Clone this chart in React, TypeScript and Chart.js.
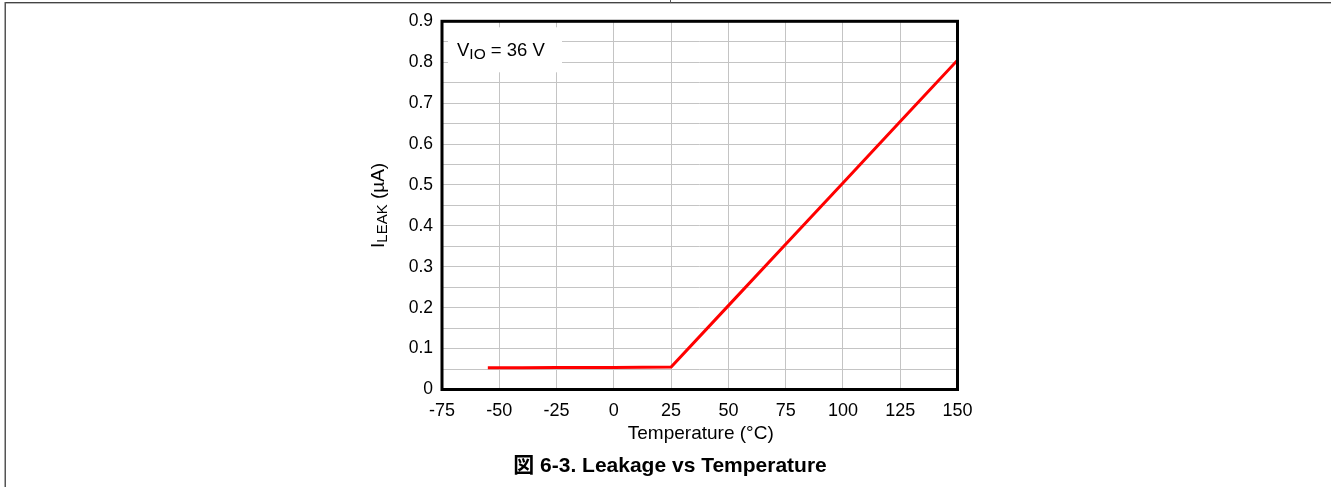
import React, { useEffect, useRef } from "react";
import { Chart, registerables } from "chart.js";

Chart.register(...registerables);

// ---- data ----
const temperatureC = [-55, -40, -25, 0, 25, 50, 75, 100, 125, 150];
const leakageUA = [0.053, 0.053, 0.054, 0.054, 0.055, 0.205, 0.355, 0.505, 0.655, 0.805];
const xMin = -75;
const xMax = 150;
const xStep = 25;
const yMin = 0;
const yMax = 0.9;
const yGridStep = 0.05;
const yTitleMain = "I";
const yTitleSub = "LEAK";
const yTitleRest = " (µA)";
const xTitle = "Temperature (°C)";
const captionText = "図 6-3. Leakage vs Temperature";
const noteMain = "V";
const noteSub = "IO";
const noteRest = " = 36 V";

const FONT = '"Liberation Sans", Arial, "Noto Sans CJK JP", sans-serif';

const decorPlugin = {
  id: "decor",
  beforeDatasetsDraw(chart: any) {
    const { ctx, chartArea } = chart;
    ctx.save();
    // white annotation box
    const bx = chartArea.left + 6;
    const by = chartArea.top + 6;
    ctx.fillStyle = "#ffffff";
    ctx.fillRect(bx, by, 114, 45);
    ctx.fillStyle = "#000000";
    ctx.textBaseline = "alphabetic";
    ctx.textAlign = "left";
    let x = chartArea.left + 15;
    const base = chartArea.top + 35;
    ctx.font = `18.5px ${FONT}`;
    ctx.fillText(noteMain, x, base);
    x += ctx.measureText(noteMain).width;
    ctx.font = `15.5px ${FONT}`;
    ctx.fillText(noteSub, x, base + 2.5);
    x += ctx.measureText(noteSub).width;
    ctx.font = `18.5px ${FONT}`;
    ctx.fillText(noteRest, x, base);
    ctx.restore();
  },
  afterDatasetsDraw(chart: any) {
    const { ctx, chartArea } = chart;
    ctx.save();
    ctx.strokeStyle = "#000000";
    ctx.lineWidth = 3;
    ctx.strokeRect(
      chartArea.left,
      chartArea.top,
      chartArea.right - chartArea.left,
      chartArea.bottom - chartArea.top
    );
    ctx.restore();
  },
  afterDraw(chart: any) {
    const { ctx, chartArea } = chart;
    ctx.save();
    ctx.fillStyle = "#000000";
    // y title (rotated with subscript)
    ctx.font = `19px ${FONT}`;
    const wMain = ctx.measureText(yTitleMain).width;
    const wRest = ctx.measureText(yTitleRest).width;
    ctx.font = `15px ${FONT}`;
    const wSub = ctx.measureText(yTitleSub).width;
    const total = wMain + wSub + wRest;
    const cy = (chartArea.top + chartArea.bottom) / 2;
    ctx.translate(384, cy);
    ctx.rotate(-Math.PI / 2);
    ctx.textAlign = "left";
    ctx.textBaseline = "alphabetic";
    let x = -total / 2;
    ctx.font = `19px ${FONT}`;
    ctx.fillText(yTitleMain, x, 0);
    x += wMain;
    ctx.font = `15px ${FONT}`;
    ctx.fillText(yTitleSub, x, 3);
    x += wSub;
    ctx.font = `19px ${FONT}`;
    ctx.fillText(yTitleRest, x, 0);
    ctx.setTransform(1, 0, 0, 1, 0, 0);
    // x title
    ctx.textAlign = "center";
    ctx.font = `19px ${FONT}`;
    ctx.fillText(xTitle, (chartArea.left + chartArea.right) / 2 + 1, 439);
    // caption
    ctx.font = `bold 21px ${FONT}`;
    ctx.fillText(captionText, 670, 472);
    ctx.restore();
  },
};

export default function App() {
  const canvasRef = useRef<HTMLCanvasElement | null>(null);

  useEffect(() => {
    if (!canvasRef.current) return;
    const chart = new Chart(canvasRef.current, {
      type: "line",
      data: {
        datasets: [
          {
            data: temperatureC.map((t, i) => ({ x: t, y: leakageUA[i] })),
            borderColor: "#ff0000",
            borderWidth: 3,
            pointRadius: 0,
            tension: 0,
            fill: false,
          },
        ],
      },
      options: {
        animation: false,
        responsive: false,
        devicePixelRatio: 1,
        layout: { padding: { left: 362, top: 21.3, right: 373.5, bottom: 67.5 } },
        plugins: { legend: { display: false }, tooltip: { enabled: false } },
        scales: {
          x: {
            type: "linear",
            min: xMin,
            max: xMax,
            border: { display: false },
            grid: { color: "#c4c4c4", lineWidth: 1, drawTicks: false },
            ticks: {
              stepSize: xStep,
              padding: 11,
              color: "#000000",
              font: { family: FONT, size: 18 },
              maxRotation: 0,
              autoSkip: false,
              callback: (v: any) => String(v),
            },
            afterFit: (scale: any) => {
              scale.height = 30;
              scale.paddingLeft = 0;
              scale.paddingRight = 0;
            },
          },
          y: {
            type: "linear",
            min: yMin,
            max: yMax,
            border: { display: false },
            grid: { color: "#c4c4c4", lineWidth: 1, drawTicks: false },
            ticks: {
              stepSize: yGridStep,
              padding: 9,
              color: "#000000",
              font: { family: FONT, size: 17.5 },
              autoSkip: false,
              callback: (v: any) => {
                const n = Math.round(Number(v) * 20);
                return n % 2 === 0 ? String(Math.round(Number(v) * 10) / 10) : "";
              },
            },
            afterFit: (scale: any) => {
              scale.width = 80;
              scale.paddingTop = 0;
              scale.paddingBottom = 0;
            },
          },
        },
      },
      plugins: [decorPlugin],
    } as any);
    return () => chart.destroy();
  }, []);

  return (
    <div style={{ position: "absolute", left: 0, top: 0, width: 1331, height: 487, overflow: "hidden", background: "#ffffff" }}>
      <div style={{ position: "absolute", left: 5, top: 2, width: 1326, height: 1, background: "#444444" }} />
      <div style={{ position: "absolute", left: 5, top: 3, width: 1326, height: 1, background: "#b8b8b8" }} />
      <div style={{ position: "absolute", left: 4, top: 2, width: 1, height: 485, background: "#a8a8a8" }} />
      <div style={{ position: "absolute", left: 5, top: 2, width: 1, height: 485, background: "#555555" }} />
      <div style={{ position: "absolute", left: 670, top: 0, width: 1, height: 3, background: "#555555" }} />
      <canvas ref={canvasRef} width={1331} height={487} style={{ position: "absolute", left: 0, top: 0 }} />
    </div>
  );
}
